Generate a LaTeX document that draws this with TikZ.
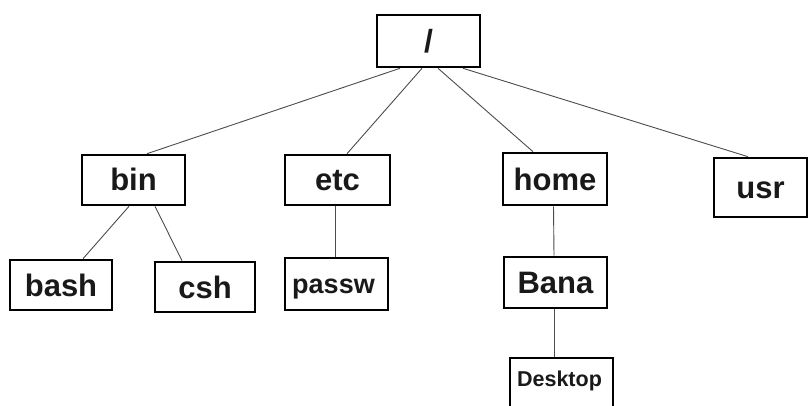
\documentclass[tikz,border=0pt]{standalone}
\usepackage{fontspec}
\setmainfont{Liberation Sans}
\begin{document}
\begin{tikzpicture}[x=1pt,y=-1pt,
  dirbox/.style={draw=black, line width=2.6pt, fill=white, inner sep=0pt, anchor=center, text=black!90, text depth=0pt},
  big/.style={font=\fontsize{31}{31}\selectfont\bfseries, text height=22pt},
  mid/.style={font=\fontsize{27}{27}\selectfont\bfseries, text height=19.5pt},
  small/.style={font=\fontsize{21.5}{21.5}\selectfont\bfseries, text height=15.5pt},
  link/.style={draw=black!70, line width=0.9pt}]
\useasboundingbox (0,0) rectangle (808,406);
\clip (0,0) rectangle (808,406);
\fill[white] (0,0) rectangle (808,406);
\node[dirbox, big, minimum width=103pt, minimum height=52pt, font=\fontsize{32}{32}\selectfont\bfseries, text height=23pt] (root) at (428.5,41) {/};
\node[dirbox, big, minimum width=103pt, minimum height=50pt] (bin) at (133.5,180) {bin};
\node[dirbox, big, minimum width=102pt, minimum height=50pt] (bash) at (61,285) {bash};
\node[dirbox, big, minimum width=100pt, minimum height=50pt] (csh) at (205,287) {csh};
\node[dirbox, big, minimum width=105pt, minimum height=50pt] (etc) at (337.5,180) {etc};
\node[dirbox, mid, minimum width=103pt, minimum height=52pt] (passw) at (336.5,284) {\hspace*{-6pt}passw};
\node[dirbox, big, minimum width=104pt, minimum height=52pt] (home) at (555,179) {home};
\node[dirbox, big, minimum width=103pt, minimum height=51pt] (bana) at (555.5,282.5) {Bana};
\node[dirbox, small, minimum width=103pt, minimum height=62pt] (desk) at (561.5,389) {\raisebox{10pt}{\hspace*{-4pt}Desktop}};
\node[dirbox, big, minimum width=93pt, minimum height=59pt] (usr) at (760.5,187.5) {usr};
% connectors
\draw[link] ([xshift=-28.5pt]root.south) -- ([xshift=13.5pt]bin.north);
\draw[link] ([xshift=-6.5pt]root.south) -- ([xshift=9.5pt]etc.north);
\draw[link] ([xshift=9.5pt]root.south) -- ([xshift=-22pt]home.north);
\draw[link] ([xshift=34.5pt]root.south) -- ([xshift=-12.5pt]usr.north);
\draw[link] ([xshift=-4.5pt]bin.south) -- ([xshift=22pt]bash.north);
\draw[link] ([xshift=21.5pt]bin.south) -- ([xshift=-23pt]csh.north);
\draw[link] ([xshift=-2pt]etc.south) -- ([xshift=-1pt]passw.north);
\draw[link] ([xshift=-1.5pt]home.south) -- ([xshift=-1.5pt]bana.north);
\draw[link] ([xshift=-1.5pt]bana.south) -- ([xshift=-7.5pt]desk.north);
\end{tikzpicture}
\end{document}
